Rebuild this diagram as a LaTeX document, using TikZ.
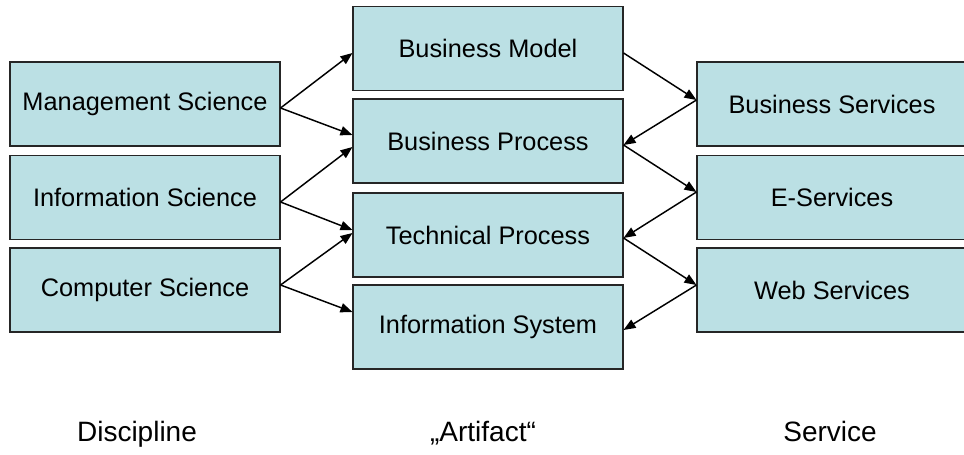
\documentclass[tikz,border=0pt]{standalone}
\usepackage{fontspec}
\setmainfont{Liberation Sans}
\usetikzlibrary{arrows.meta,calc}

\definecolor{boxfill}{RGB}{187,224,228}

\tikzset{
    box/.style={draw=black!85, line width=0.8pt, fill=boxfill, minimum width=202.5pt,
        minimum height=63pt, inner sep=0pt, font=\fontsize{19}{22}\selectfont},
    widebox/.style={box, minimum width=217.5pt},
    caption/.style={anchor=base, font=\fontsize{21}{24}\selectfont},
    link/.style={-{Triangle[length=9pt,width=7pt]}, line width=1.1pt}
}

\begin{document}
\begin{tikzpicture}[x=0.75pt, y=-0.75pt]
    \useasboundingbox (0,0) rectangle (964,454);

    % Disciplines on the left
    \node[box] (ms) at (145,104) {Management Science};
    \node[box] (is) at (145,197.5) {Information Science};
    \node[box] (cs) at (145,290) {Computer Science};

    % Artifacts in the middle
    \node[box] (bm) at (488,48.5) {Business Model};
    \node[box] (bp) at (488,141) {Business Process};
    \node[box] (tp) at (488,235) {Technical Process};
    \node[box] (isys) at (488,327) {Information System};

    % Services on the right (running off the page edge)
    \node[widebox] (bs) at (842,104) {\hspace*{-15pt}Business Services};
    \node[widebox] (es) at (842,197.5) {\hspace*{-15pt}E-Services};
    \node[widebox] (ws) at (842,290) {\hspace*{-15pt}Web Services};

    % Column captions
    \node[caption] (disc) at (137,441) {Discipline};
    \node[caption] (arti) at (483,441) {„Artifact“};
    \node[caption] (serv) at (830,441) {Service};

    % Discipline -> artifact
    \draw[link] ($(ms.east)+(0,4)$) -- ($(bm.west)+(0,4.5)$);
    \draw[link] ($(ms.east)+(0,4)$) -- ($(bp.west)+(0,-6)$);
    \draw[link] ($(is.east)+(0,4.5)$) -- ($(bp.west)+(0,6)$);
    \draw[link] ($(is.east)+(0,4.5)$) -- ($(tp.west)+(0,-5)$);
    \draw[link] ($(cs.east)+(0,-5)$) -- ($(tp.west)+(0,-2)$);
    \draw[link] ($(cs.east)+(0,-5)$) -- ($(isys.west)+(0,-15)$);

    % Artifact <-> service, zig-zag
    \draw[link] ($(bm.east)+(0,4.5)$) -- ($(bs.west)+(0,-4)$);
    \draw[link] ($(bs.west)+(0,-4)$) -- ($(bp.east)+(0,4)$);
    \draw[link] ($(bp.east)+(0,4)$) -- ($(es.west)+(0,-5.5)$);
    \draw[link] ($(es.west)+(0,-5.5)$) -- ($(tp.east)+(0,3)$);
    \draw[link] ($(tp.east)+(0,3)$) -- ($(ws.west)+(0,-5)$);
    \draw[link] ($(ws.west)+(0,-5)$) -- ($(isys.east)+(0,3)$);
\end{tikzpicture}
\end{document}
